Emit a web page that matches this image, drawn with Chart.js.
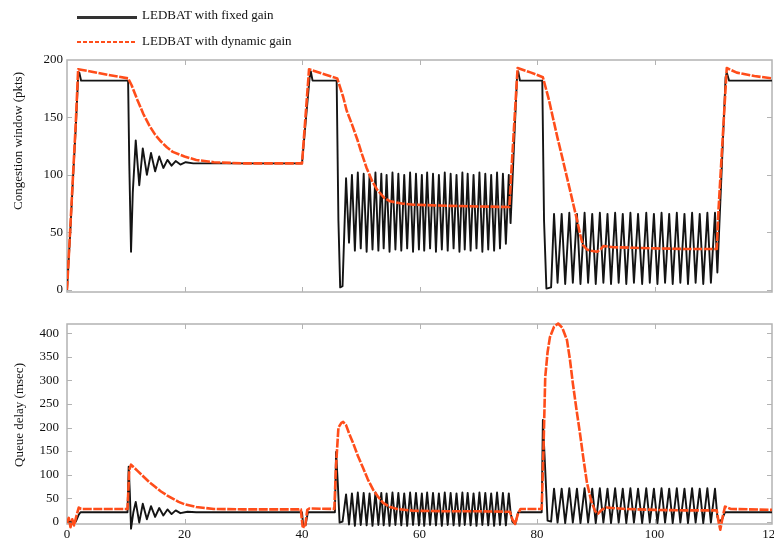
<!DOCTYPE html>
<html>
<head>
<meta charset="utf-8">
<script src="https://cdn.jsdelivr.net/npm/chart.js@4.4.1/dist/chart.umd.min.js"></script>
<style>
  html, body { margin: 0; padding: 0; background: #fff; }
  body { width: 774px; height: 542px; position: relative; overflow: hidden; font-family: "Liberation Serif", "DejaVu Serif", serif; }
  .abs { position: absolute; }
  .lgtext { font-size: 13px; color: #111; white-space: nowrap; line-height: 15px; }
  .ytitle { font-size: 13px; color: #111; white-space: nowrap; transform: translate(-50%, -50%) rotate(-90deg); }
</style>
</head>
<body>
<div class="abs" style="left:0;top:0;"><canvas id="top" width="774" height="300"></canvas></div>
<div class="abs" style="left:0;top:300px;"><canvas id="bot" width="774" height="242"></canvas></div>

<div class="abs" style="left:77px;top:16px;width:60px;height:3px;background:#333;"></div>
<div class="abs lgtext" style="left:142px;top:7px;">LEDBAT with fixed gain</div>
<div class="abs" style="left:77px;top:41px;width:60px;height:2px;background:repeating-linear-gradient(to right,#ff4d1a 0 4px,transparent 4px 6px);"></div>
<div class="abs lgtext" style="left:142px;top:33px;">LEDBAT with dynamic gain</div>

<div class="abs ytitle" style="left:18px;top:141px;">Congestion window (pkts)</div>
<div class="abs ytitle" style="left:19px;top:415px;">Queue delay (msec)</div>

<script>
// ---- data (time in s, value) ----
const xTicks = [0, 20, 40, 60, 80, 100, 120];
const cwndTicks = [0, 50, 100, 150, 200];
const delayTicks = [0, 50, 100, 150, 200, 250, 300, 350, 400];

const cwndFixed = [
  [0,0],[0.5,45],[1.0,95],[1.5,142],[1.9,186],[2.1,189],[2.4,182],[10.4,182],[10.6,110],[10.9,33],[11.2,85],[11.7,130],
  [12.3,91],[12.9,123],[13.6,100],[14.3,119],[15.0,103],[15.7,116],[16.4,106],[17.1,113],[17.8,108],[18.5,112],
  [19.3,109],[20.2,111],[21.5,110],[40.0,110],[41.3,185],[41.5,190],[41.8,182],[45.9,182],[46.2,60],[46.5,2],[46.9,3],
  [47.5,97],[48.0,41],[48.5,100],[49.0,34],[49.5,102],[50.0,36],[50.5,101],[51.0,33],[51.5,100],[52.0,35],
  [52.5,102],[53.0,34],[53.5,101],[53.9,36],[54.4,100],[54.9,33],[55.4,102],[55.9,35],[56.4,101],[56.9,34],
  [57.4,100],[57.9,36],[58.4,102],[58.9,33],[59.4,101],[59.9,35],[60.4,100],[60.8,34],[61.3,102],[61.8,36],
  [62.3,101],[62.8,33],[63.3,100],[63.8,35],[64.3,102],[64.8,34],[65.3,101],[65.8,36],[66.3,100],[66.8,33],
  [67.3,102],[67.7,35],[68.2,101],[68.7,34],[69.2,100],[69.7,36],[70.2,102],[70.7,33],[71.2,101],[71.7,35],
  [72.2,100],[72.7,34],[73.2,102],[73.7,36],[74.2,101],[74.7,40],[75.2,100],[75.5,58],[76.6,185],[76.8,190],
  [77.1,182],[80.9,182],[81.2,60],[81.6,1],[82.4,2],
  [82.9,66],[83.5,6],[84.2,66],[84.8,5],[85.5,67],[86.1,6],[86.8,66],[87.4,5],[88.1,67],[88.7,6],[89.4,66],
  [90.0,5],[90.7,67],[91.3,6],[92.0,66],[92.6,5],[93.3,67],[93.9,6],[94.6,66],[95.2,5],[95.9,67],[96.5,6],
  [97.2,66],[97.9,5],[98.6,67],[99.2,6],[99.9,66],[100.5,5],[101.2,67],[101.8,6],[102.5,66],[103.1,5],
  [103.8,67],[104.4,6],[105.1,66],[105.7,5],[106.4,67],[107.0,6],[107.7,66],[108.3,5],[109.0,67],[109.6,6],
  [110.3,67],[110.7,15],[112.1,185],[112.3,189],[112.7,182],[120,182]
];

const cwndDynamic = [
  [0,0],[0.5,48],[1.0,97],[1.5,146],[1.9,192],[4,190],[7,187],[10.4,184],[11,178],[12,165],[13,153],[14,143],
  [15,135],[16,129],[17,124],[18,120],[20,116],[22,113],[25,111],[30,110],[40,110],[41.2,192],[43.5,188],
  [46.0,184],[47.0,168],[47.6,156],[48.5,144],[49.4,131],[50.2,118],[51.0,106],[52.0,94],[52.8,87],[54.0,80],
  [55.0,77],[57.0,75],[59.0,74],[65,73],[70,72.5],[75.3,72],[75.6,100],[76.7,193],[79,189],[81.0,185],
  [82.0,166],[82.7,150],[83.5,132],[84.4,113],[85.0,100],[85.6,87],[86.2,74],[86.8,61],[87.3,49],[87.8,39],
  [88.5,35],[89.2,34],[90.2,33],[90.8,35],[91.3,38],[93,37],[96.3,36.5],[100,36],[105,35.5],[110.6,35.5],
  [110.9,70],[112.3,193],[114,189],[117,186],[120,184]
];

const delayFixed = [
  [0,0],[1.5,0],[2.0,15],[2.3,20],[10.3,20],[10.5,117],[10.7,60],[10.9,-15],[11.3,20],[11.7,42],[12.3,-2],
  [12.9,38],[13.6,5],[14.3,33],[15.0,10],[15.7,29],[16.4,13],[17.1,26],[17.8,16],[18.5,24],[19.3,18],[20.5,21],
  [22,20],[40,20],[40.2,-8],[40.6,-8],[41.0,20],[45.6,20],[45.8,148],[46.1,80],[46.4,-2],[46.9,0],
  [47.5,58],[48.0,-6],[48.5,60],[49.0,-9],[49.5,62],[50.0,-7],[50.5,61],[51.0,-8],[51.5,60],[52.0,-9],
  [52.5,62],[53.0,-7],[53.5,61],[53.9,-8],[54.4,60],[54.9,-9],[55.4,62],[55.9,-7],[56.4,61],[56.9,-8],
  [57.4,60],[57.9,-9],[58.4,62],[58.9,-7],[59.4,61],[59.9,-8],[60.4,60],[60.8,-9],[61.3,62],[61.8,-7],
  [62.3,61],[62.8,-8],[63.3,60],[63.8,-9],[64.3,62],[64.8,-7],[65.3,61],[65.8,-8],[66.3,60],[66.8,-9],
  [67.3,62],[67.7,-7],[68.2,61],[68.7,-8],[69.2,60],[69.7,-9],[70.2,62],[70.7,-7],[71.2,61],[71.7,-8],
  [72.2,60],[72.7,-9],[73.2,62],[73.7,-7],[74.2,61],[74.7,-8],[75.2,60],[75.5,20],[75.8,0],[76.3,-5],
  [76.8,20],[80.8,20],[81.0,216],[81.4,110],[81.8,2],[82.4,0],
  [82.9,70],[83.5,-2],[84.2,70],[84.8,-3],[85.5,71],[86.1,-2],[86.8,70],[87.4,-3],[88.1,71],[88.7,-2],
  [89.4,70],[90.0,-3],[90.7,71],[91.3,-2],[92.0,70],[92.6,-3],[93.3,71],[93.9,-2],[94.6,70],[95.2,-3],
  [95.9,71],[96.5,-2],[97.2,70],[97.9,-3],[98.6,71],[99.2,-2],[99.9,70],[100.5,-3],[101.2,71],[101.8,-2],
  [102.5,70],[103.1,-3],[103.8,71],[104.4,-2],[105.1,70],[105.7,-3],[106.4,71],[107.0,-2],[107.7,70],
  [108.3,-3],[109.0,71],[109.6,-2],[110.3,70],[110.7,10],[111.0,0],[111.5,5],[112.0,20],[120,20]
];

const delayDynamic = [
  [0,-3],[0.3,8],[0.6,-12],[0.9,5],[1.2,-8],[1.6,12],[2.0,30],[2.4,27],[10.3,27],[10.6,110],[10.9,121],
  [12,108],[13,96],[14,84],[15,74],[16,64],[17,56],[18,49],[19,42],[20,37],[22,31],[25,27],[30,26],
  [39.8,26],[40.1,-10],[40.5,-12],[40.9,25],[41.3,28],[45.5,27],[45.8,120],[46.2,200],[46.7,210],[47.0,212],
  [47.5,205],[48.0,188],[48.7,167],[49.5,140],[50.4,114],[51.2,90],[52.1,68],[53.0,52],[53.8,40],[55,31],
  [56.2,27],[59,23],[65,22],[70,22],[75.4,21],[75.8,5],[76.3,-5],[76.7,15],[77.2,27],[80.8,27],[81.1,150],
  [81.4,307],[81.8,360],[82.2,392],[82.9,414],[83.6,421],[84.3,412],[85.1,386],[85.6,345],[86.1,294],
  [86.7,240],[87.3,189],[87.9,134],[88.5,83],[89.2,45],[89.9,22],[90.4,17],[91.0,25],[91.8,30],[95,27],
  [100,25],[105,24],[110.6,24],[110.9,0],[111.2,-17],[111.6,10],[112.0,32],[113,27],[120,25]
];

// ---- rendering ----
const FONT = '"Liberation Serif", "DejaVu Serif", serif';
Chart.defaults.font.family = FONT;
Chart.defaults.color = '#111';

const toXY = arr => arr.map(p => ({ x: p[0], y: p[1] }));
const BLACK = '#141414';
const ORANGE = '#ff4d1a';

const framePlugin = {
  id: 'frame',
  beforeDatasetsDraw(chart) {
    const { ctx, chartArea: a, scales } = chart;
    ctx.save();
    ctx.strokeStyle = '#b3b3b3';
    ctx.lineWidth = 1.5;
    ctx.strokeRect(a.left, a.top, a.right - a.left, a.bottom - a.top);
    ctx.lineWidth = 1;
    ctx.beginPath();
    scales.x.ticks.forEach(t => {
      if (t.value <= scales.x.min || t.value >= scales.x.max) return;
      const px = Math.round(scales.x.getPixelForValue(t.value)) + 0.5;
      ctx.moveTo(px, a.bottom); ctx.lineTo(px, a.bottom - 5);
      ctx.moveTo(px, a.top); ctx.lineTo(px, a.top + 5);
    });
    scales.y.ticks.forEach(t => {
      const py = Math.round(scales.y.getPixelForValue(t.value)) + 0.5;
      if (py <= a.top + 1 || py >= a.bottom - 1) return;
      ctx.moveTo(a.left, py); ctx.lineTo(a.left + 5, py);
      ctx.moveTo(a.right, py); ctx.lineTo(a.right - 5, py);
    });
    ctx.stroke();
    ctx.restore();
  }
};

function makeChart(id, orangeData, blackData, yMin, yMax, yTicks, opts) {
  return new Chart(document.getElementById(id), {
    type: 'line',
    data: {
      datasets: [
        { label: 'LEDBAT with dynamic gain', data: toXY(orangeData), borderColor: ORANGE, borderWidth: 2.6,
          borderDash: [9, 1.5], pointRadius: 0, tension: 0, borderJoinStyle: 'round', clip: { left: 0, top: 3, right: 0, bottom: 8 } },
        { label: 'LEDBAT with fixed gain', data: toXY(blackData), borderColor: BLACK, borderWidth: 1.9,
          pointRadius: 0, tension: 0, borderJoinStyle: 'round', clip: { left: 0, top: 3, right: 0, bottom: 8 } }
      ]
    },
    options: {
      responsive: false,
      animation: false,
      events: [],
      layout: { padding: { top: opts.padTop, right: 2, bottom: 0, left: 0 } },
      plugins: { legend: { display: false }, tooltip: { enabled: false } },
      scales: {
        x: {
          type: 'linear', min: 0, max: 120,
          afterBuildTicks: s => { s.ticks = xTicks.map(v => ({ value: v })); },
          afterFit: s => { s.height = opts.xHeight; s.paddingLeft = 0; s.paddingRight = 0; },
          grid: { display: false, drawTicks: false },
          border: { display: false },
          ticks: { display: opts.xLabels, font: { size: 13, family: FONT }, color: '#111', padding: 3, maxRotation: 0, autoSkip: false }
        },
        y: {
          type: 'linear', min: yMin, max: yMax,
          afterBuildTicks: s => { s.ticks = yTicks.map(v => ({ value: v })); },
          afterFit: s => { s.width = 67; s.paddingTop = 0; s.paddingBottom = 0; },
          grid: { display: false, drawTicks: false },
          border: { display: false },
          ticks: { font: { size: 13, family: FONT }, color: '#111', padding: opts.yPad }
        }
      }
    },
    plugins: [framePlugin]
  });
}

makeChart('top', cwndDynamic, cwndFixed, -2, 200, cwndTicks, { padTop: 60, xHeight: 8, xLabels: false, yPad: 4 });
makeChart('bot', delayDynamic, delayFixed, -5, 420, delayTicks, { padTop: 24, xHeight: 18, xLabels: true, yPad: 8 });
</script>
</body>
</html>
